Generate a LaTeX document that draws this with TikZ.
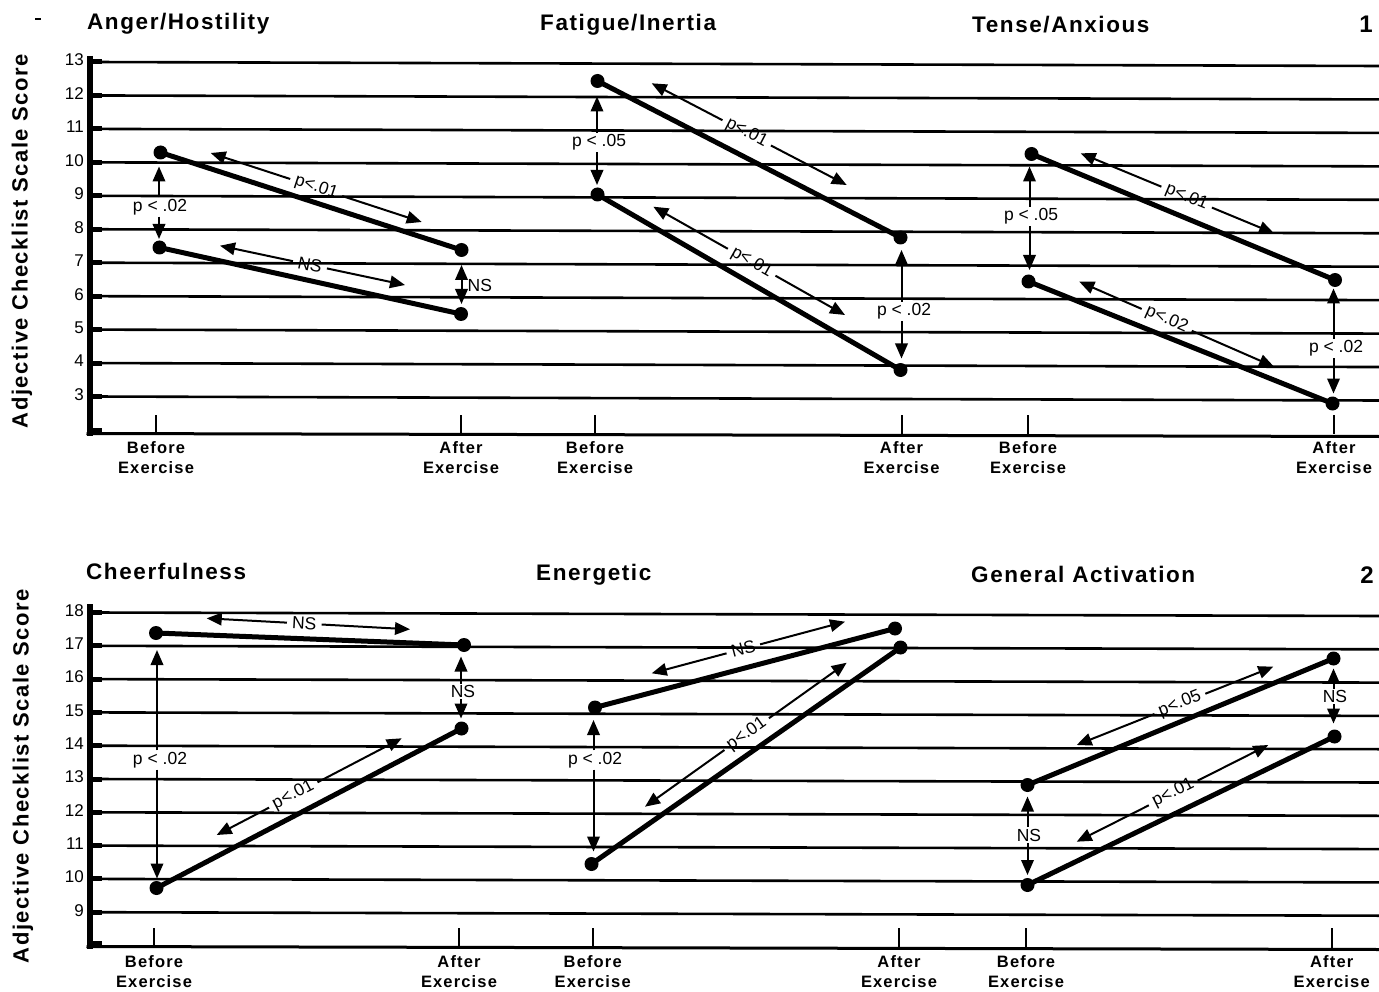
\documentclass[tikz,border=0pt]{standalone}
\usepackage{fontspec}
\setmainfont{Liberation Sans}
\newfontfamily\spaced{Liberation Sans}[LetterSpace=7]
\usetikzlibrary{arrows.meta}
\newcommand\pdiag[5]{%
  \path (#1) -- (#2) node[pos=#3, sloped, plab, inner xsep=5pt] (#4) {#5};
  \draw[arr] (#4.west) -- (#1);
  \draw[arr] (#4.east) -- (#2);}
\begin{document}
\begin{tikzpicture}[x=1pt,y=-1pt,
  grid/.style={line width=2.6pt},
  nub/.style={line width=5pt},
  dline/.style={line width=5pt},
  dot/.style={circle,fill=black,inner sep=0pt,minimum size=14pt},
  arr/.style={line width=2pt,-{Triangle[length=15pt,width=12.5pt]}},
  darr/.style={line width=2pt,{Triangle[length=15pt,width=12.5pt]}-{Triangle[length=15pt,width=12.5pt]}},
  plab/.style={font=\fontsize{17.5}{20}\selectfont,inner sep=1.5pt},
  ttl/.style={font=\spaced\bfseries\fontsize{22.5}{26}\selectfont,anchor=base west,inner sep=0pt},
  num/.style={font=\bfseries\fontsize{24}{28}\selectfont,anchor=base east,inner sep=0pt},
  ticklab/.style={font=\fontsize{17}{19}\selectfont,anchor=east,inner sep=0pt},
  xlab/.style={font=\spaced\bfseries\fontsize{16.5}{20}\selectfont,align=center,anchor=north,inner sep=0pt},
  ylab/.style={font=\spaced\bfseries\fontsize{22}{26}\selectfont,rotate=90,inner sep=0pt},
  xtick/.style={line width=2pt},
]
\useasboundingbox (0,0) rectangle (1379,992);
\fill[white] (0,0) rectangle (1379,992);

% ---------------- stray mark
\draw[line width=2pt] (35,19) -- (41,19);

% ================= PANEL 1 =================
\node[ttl] (t1) at (87,30) {Anger/Hostility};
\node[ttl] (t2) at (540,31) {Fatigue/Inertia};
\node[ttl] (t3) at (972,33) {Tense/Anxious};
\node[num] (n1) at (1373,33) {1};
\node[ylab] (y1) at (22,241) {Adjective Checklist Scale Score};

\foreach \v in {3,...,13} {
  \pgfmathsetmacro\yy{62+(13-\v)*33.45}
  \draw[grid] (92,\yy) -- (1379,\yy+4);
  \draw[nub] (89,\yy) -- (102,\yy);
  \node[ticklab] at (84,\yy-2) {\v};
}
\draw[nub] (89,430) -- (102,430);
\draw[line width=6pt] (89.5,56) -- (89.5,436);
\draw[line width=3pt] (86.5,433.5) -- (1379,436.5);
\foreach \x/\nm in {156/Before,461/After,595/Before,901.5/After,1028/Before,1334/After} {
  \draw[xtick] (\x,415) -- (\x,434);
  \node[xlab] at (\x,441) {\nm\\Exercise};
}

% --- Anger/Hostility
\node[dot] (ahB) at (160.5,152.5) {};
\node[dot] (ahA) at (461.5,250) {};
\node[dot] (alB) at (159.5,247.5) {};
\node[dot] (alA) at (461,314) {};
\draw[dline] (ahB.center) -- (ahA.center);
\draw[dline] (alB.center) -- (alA.center);
\coordinate (a1) at (159,166.5); \coordinate (a2) at (159,239);
\node[plab] (ap1) at (160,207) {p < .02};
\draw[arr] (ap1.north -| a1) -- (a1); \draw[arr] (ap1.south -| a2) -- (a2);
\coordinate (a3) at (210.7,153); \coordinate (a4) at (421.7,222);
\pdiag{a3}{a4}{0.5}{ap2}{p<.01}
\coordinate (a5) at (220,245.7); \coordinate (a6) at (405,285);
\pdiag{a5}{a6}{0.486}{ap3}{NS}
\coordinate (a7) at (461.5,265); \coordinate (a8) at (461.5,304);
\draw[darr] (a7) -- (a8);
\node[plab,anchor=west] (ap4) at (466,285) {NS};

% --- Fatigue/Inertia
\node[dot] (fhB) at (597.5,81) {};
\node[dot] (fhA) at (900.5,237.5) {};
\node[dot] (flB) at (597.5,194.5) {};
\node[dot] (flA) at (900.5,370) {};
\draw[dline] (fhB.center) -- (fhA.center);
\draw[dline] (flB.center) -- (flA.center);
\coordinate (f1) at (597,96.5); \coordinate (f2) at (597,185);
\node[plab] (fp1) at (599,142.5) {p < .05};
\draw[arr] (fp1.north -| f1) -- (f1); \draw[arr] (fp1.south -| f2) -- (f2);
\coordinate (f3) at (651.7,83.3); \coordinate (f4) at (846.7,185);
\pdiag{f3}{f4}{0.487}{fp2}{p<.01}
\coordinate (f5) at (653.3,206.7); \coordinate (f6) at (845,315);
\pdiag{f5}{f6}{0.513}{fp3}{p<.01}
\coordinate (f7) at (901.5,250); \coordinate (f8) at (901.5,358.5);
\node[plab] (fp4) at (904,311.5) {p < .02};
\draw[arr] (fp4.north -| f7) -- (f7); \draw[arr] (fp4.south -| f8) -- (f8);

% --- Tense/Anxious
\node[dot] (thB) at (1031.5,154) {};
\node[dot] (thA) at (1335,280) {};
\node[dot] (tlB) at (1028.5,281.5) {};
\node[dot] (tlA) at (1332.5,403.5) {};
\draw[dline] (thB.center) -- (thA.center);
\draw[dline] (tlB.center) -- (tlA.center);
\coordinate (s1) at (1029.5,166.5); \coordinate (s2) at (1029.5,270);
\node[plab] (sp1) at (1031,216.5) {p < .05};
\draw[arr] (sp1.north -| s1) -- (s1); \draw[arr] (sp1.south -| s2) -- (s2);
\coordinate (s3) at (1080.7,153.3); \coordinate (s4) at (1274,233.3);
\pdiag{s3}{s4}{0.548}{sp2}{p<.01}
\coordinate (s5) at (1079.3,281.7); \coordinate (s6) at (1274,366.7);
\pdiag{s5}{s6}{0.449}{sp3}{p<.02}
\coordinate (s7) at (1333.5,288.5); \coordinate (s8) at (1333.5,393.5);
\node[plab] (sp4) at (1336,348.5) {p < .02};
\draw[arr] (sp4.north -| s7) -- (s7); \draw[arr] (sp4.south -| s8) -- (s8);

% ================= PANEL 2 =================
\node[ttl] (t4) at (86,579) {Cheerfulness};
\node[ttl] (t5) at (536,580.5) {Energetic};
\node[ttl] (t6) at (971,582.5) {General Activation};
\node[num] (n2) at (1374,583.5) {2};
\node[ylab] (y2) at (23,776) {Adjective Checklist Scale Score};

\foreach \v in {9,...,18} {
  \pgfmathsetmacro\yy{612.5+(18-\v)*33.3}
  \draw[grid] (92,\yy) -- (1379,\yy+3.5);
  \draw[nub] (89,\yy) -- (102,\yy);
  \node[ticklab] at (84,\yy-2) {\v};
}
\draw[nub] (89,943) -- (102,943);
\draw[line width=6pt] (89.5,604) -- (89.5,949);
\draw[line width=3pt] (86.5,946.5) -- (1379,949.5);
\foreach \x/\nm in {154/Before,459/After,592.7/Before,899/After,1026/Before,1331.7/After} {
  \draw[xtick] (\x,928) -- (\x,948);
  \node[xlab] at (\x,955.5) {\nm\\Exercise};
}

% --- Cheerfulness
\node[dot] (chB) at (156,633) {};
\node[dot] (chA) at (464,645) {};
\node[dot] (clB) at (156.5,888) {};
\node[dot] (clA) at (461.5,728.5) {};
\draw[dline] (chB.center) -- (chA.center);
\draw[dline] (clB.center) -- (clA.center);
\coordinate (c1) at (206.7,618.3); \coordinate (c2) at (410,629.3);
\pdiag{c1}{c2}{0.48}{cp1}{NS}
\coordinate (c3) at (157,650); \coordinate (c4) at (157,878.5);
\node[plab] (cp2) at (160,760) {p < .02};
\draw[arr] (cp2.north -| c3) -- (c3); \draw[arr] (cp2.south -| c4) -- (c4);
\coordinate (c5) at (461,656.5); \coordinate (c6) at (461,718.5);
\node[plab] (cp3) at (463,691.5) {NS};
\draw[arr] (cp3.north -| c5) -- (c5); \draw[arr] (cp3.south -| c6) -- (c6);
\coordinate (c7) at (216.7,835); \coordinate (c8) at (401.7,738.3);
\pdiag{c7}{c8}{0.414}{cp4}{p<.01}

% --- Energetic
\node[dot] (ehB) at (595,707.5) {};
\node[dot] (ehA) at (895,628.5) {};
\node[dot] (elB) at (591.5,864) {};
\node[dot] (elA) at (900.5,647.5) {};
\draw[dline] (ehB.center) -- (ehA.center);
\draw[dline] (elB.center) -- (elA.center);
\coordinate (e1) at (651.7,673.3); \coordinate (e2) at (845,621.7);
\pdiag{e1}{e2}{0.474}{ep1}{NS}
\coordinate (e3) at (645,806.7); \coordinate (e4) at (846.7,662.7);
\pdiag{e3}{e4}{0.504}{ep2}{p<.01}
\coordinate (e5) at (593.5,720); \coordinate (e6) at (593.5,851.5);
\node[plab] (ep3) at (595,760) {p < .02};
\draw[arr] (ep3.north -| e5) -- (e5); \draw[arr] (ep3.south -| e6) -- (e6);

% --- General Activation
\node[dot] (ghB) at (1027.5,785) {};
\node[dot] (ghA) at (1333.5,658.5) {};
\node[dot] (glB) at (1027.5,885) {};
\node[dot] (glA) at (1334.5,736.5) {};
\draw[dline] (ghB.center) -- (ghA.center);
\draw[dline] (glB.center) -- (glA.center);
\coordinate (g1) at (1076.7,745); \coordinate (g2) at (1273.3,666.7);
\pdiag{g1}{g2}{0.525}{gp1}{p<.05}
\coordinate (g3) at (1076.7,841.7); \coordinate (g4) at (1268.3,745);
\pdiag{g3}{g4}{0.504}{gp2}{p<.01}
\coordinate (g5) at (1027.5,796.5); \coordinate (g6) at (1027.5,875);
\node[plab] (gp3) at (1029,835) {NS};
\draw[arr] (gp3.north -| g5) -- (g5); \draw[arr] (gp3.south -| g6) -- (g6);
\coordinate (g7) at (1333.5,668.5); \coordinate (g8) at (1333.5,723.5);
\node[plab] (gp4) at (1335,696.5) {NS};
\draw[arr] (gp4.north -| g7) -- (g7); \draw[arr] (gp4.south -| g8) -- (g8);
\end{tikzpicture}
\end{document}
